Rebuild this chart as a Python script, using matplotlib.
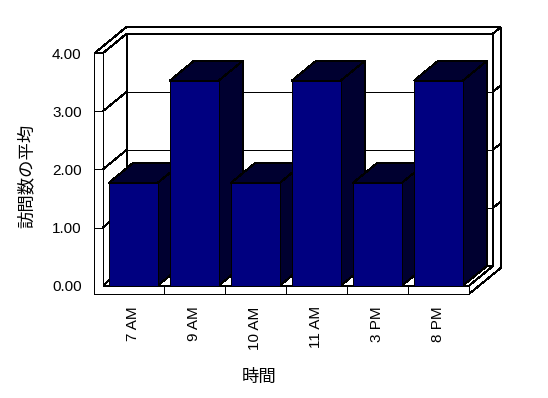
import matplotlib
matplotlib.use("Agg")
import matplotlib.pyplot as plt
from matplotlib.patches import Polygon

plt.rcParams['font.family'] = ['Liberation Sans', 'Noto Sans CJK JP', 'DejaVu Sans']

# ---- data ----
categories = ["7 AM", "9 AM", "10 AM", "11 AM", "3 PM", "8 PM"]
values = [1.77, 3.53, 1.77, 3.53, 1.77, 3.53]
y_ticks = [0, 1, 2, 3, 4]
y_tick_labels = ["0.00", "1.00", "2.00", "3.00", "4.00"]
x_title = "時間"
y_title = "訪問数の平均"

# ---- figure / axes (front plane of the 3D box) ----
W, H = 548, 398
fig = plt.figure(figsize=(W / 100, H / 100), dpi=100)
fig.patch.set_facecolor("white")
ax = fig.add_axes([102.7 / W, (H - 285.7) / H, (469 - 102.7) / W, (285.7 - 53.3) / H])
ax.set_xlim(-0.5, len(categories) - 0.5)
ax.set_ylim(0, 4)
ax.patch.set_visible(False)
for s in ax.spines.values():
    s.set_visible(False)

# 3D projection parameters (data units)
DX = 24 / 61.05      # depth offset in x for full depth
DY = 19.7 / 58.1     # depth offset in y for full depth
TX = 8.3 / 61.05     # left wall thickness
TY = 8.3 / 58.1      # floor thickness
ZB = 1.32            # outer depth including back wall
BW = 0.8             # bar width
x0, x1 = -0.5, len(categories) - 0.5
ytop = y_ticks[-1]

def P(x, y, z):
    return (x + z * DX, y + z * DY)

LW = 0.72

def face(pts, fc="white", z=1):
    ax.add_patch(Polygon([P(*p) for p in pts], closed=True, facecolor=fc,
                         edgecolor="black", linewidth=LW, clip_on=False,
                         zorder=z, joinstyle="miter", antialiased=False))

def line(p, q, z=2):
    a, b = P(*p), P(*q)
    ax.plot([a[0], b[0]], [a[1], b[1]], color="black", lw=LW,
            clip_on=False, zorder=z, solid_capstyle="butt", antialiased=False)

# back wall inner face
face([(x0, 0, 1), (x1, 0, 1), (x1, ytop, 1), (x0, ytop, 1)])
# top faces of left wall + back wall
face([(x0 - TX, ytop, 0), (x0, ytop, 0), (x0, ytop, 1), (x1, ytop, 1),
      (x1, ytop, ZB), (x0 - TX, ytop, ZB)])
# right faces of floor + back wall
face([(x1, -TY, 0), (x1, 0, 0), (x1, 0, 1), (x1, ytop, 1),
      (x1, ytop, ZB), (x1, -TY, ZB)])
# left wall inner face
face([(x0, 0, 0), (x0, 0, 1), (x0, ytop, 1), (x0, ytop, 0)])
# floor top face
face([(x0, 0, 0), (x1, 0, 0), (x1, 0, 1), (x0, 0, 1)])
# front faces of floor + left wall
face([(x0 - TX, -TY, 0), (x1, -TY, 0), (x1, 0, 0), (x0, 0, 0),
      (x0, ytop, 0), (x0 - TX, ytop, 0)])

# gridlines
for v in y_ticks[1:-1]:
    line((x0, v, 1), (x1, v, 1))
    line((x0, v, 0), (x0, v, 1))
    line((x1, v, 1), (x1, v, ZB))
    line((x0 - TX, v, 0), (x0, v, 0))

# category separators on the floor front
for i in range(1, len(categories)):
    line((i - 0.5, -TY, 0), (i - 0.5, 0, 0))

# bars, left to right
front_c = "#000080"
dark_c = "#000030"
for i, v in enumerate(values):
    xl, xr = i - BW / 2, i + BW / 2
    zb = 10 + i * 3
    face([(xr, 0, 0), (xr, 0, 1), (xr, v, 1), (xr, v, 0)], fc=dark_c, z=zb)
    face([(xl, v, 0), (xr, v, 0), (xr, v, 1), (xl, v, 1)], fc=dark_c, z=zb + 1)
    face([(xl, 0, 0), (xr, 0, 0), (xr, v, 0), (xl, v, 0)], fc=front_c, z=zb + 2)

# ticks / labels
ax.set_yticks(y_ticks)
ax.set_yticklabels(y_tick_labels, fontsize=11)
ax.tick_params(axis="y", length=0, pad=15.1)
ax.set_xticks(range(len(categories)))
ax.set_xticklabels(categories, fontsize=11, rotation=90)
ax.tick_params(axis="x", length=0, pad=14.8)

fig.text(26.3 / W, 1 - 175.8 / H, y_title, rotation=90, ha="center", va="center",
         fontsize=12.5, family=["Noto Sans CJK JP"])
fig.text(259.2 / W, 1 - 376.7 / H, x_title, ha="center", va="center",
         fontsize=12.5, family=["Noto Sans CJK JP"])

fig.savefig("out.png", dpi=100, facecolor="white")
